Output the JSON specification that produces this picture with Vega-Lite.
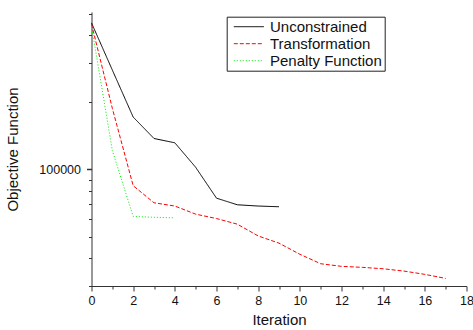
{
  "$schema": "https://vega.github.io/schema/vega-lite/v6.json",
  "width": 375,
  "height": 274,
  "autosize": "none",
  "padding": {"left": 91.5, "top": 12, "right": 6.5, "bottom": 44},
  "background": "white",
  "config": {"view": {"stroke": null}, "font": "Liberation Sans"},
  "data": {
    "values": [
      {"series": "Unconstrained", "iteration": 0, "value": 454000},
      {"series": "Unconstrained", "iteration": 1, "value": 279000},
      {"series": "Unconstrained", "iteration": 2, "value": 171700},
      {"series": "Unconstrained", "iteration": 3, "value": 137600},
      {"series": "Unconstrained", "iteration": 4, "value": 131600},
      {"series": "Unconstrained", "iteration": 5, "value": 102200},
      {"series": "Unconstrained", "iteration": 6, "value": 74300},
      {"series": "Unconstrained", "iteration": 7, "value": 69400},
      {"series": "Unconstrained", "iteration": 8, "value": 68500},
      {"series": "Unconstrained", "iteration": 9, "value": 68000},
      {"series": "Transformation", "iteration": 0, "value": 449000},
      {"series": "Transformation", "iteration": 1, "value": 187900},
      {"series": "Transformation", "iteration": 2, "value": 84500},
      {"series": "Transformation", "iteration": 3, "value": 70850},
      {"series": "Transformation", "iteration": 4, "value": 68500},
      {"series": "Transformation", "iteration": 5, "value": 63000},
      {"series": "Transformation", "iteration": 6, "value": 60200},
      {"series": "Transformation", "iteration": 7, "value": 56800},
      {"series": "Transformation", "iteration": 8, "value": 50300},
      {"series": "Transformation", "iteration": 9, "value": 46700},
      {"series": "Transformation", "iteration": 10, "value": 41640},
      {"series": "Transformation", "iteration": 11, "value": 37760},
      {"series": "Transformation", "iteration": 12, "value": 36750},
      {"series": "Transformation", "iteration": 13, "value": 36370},
      {"series": "Transformation", "iteration": 14, "value": 35840},
      {"series": "Transformation", "iteration": 15, "value": 35000},
      {"series": "Transformation", "iteration": 16, "value": 33830},
      {"series": "Transformation", "iteration": 17, "value": 32450},
      {"series": "Penalty Function", "iteration": 0, "value": 439800},
      {"series": "Penalty Function", "iteration": 1, "value": 121500},
      {"series": "Penalty Function", "iteration": 2, "value": 61600},
      {"series": "Penalty Function", "iteration": 3, "value": 60970},
      {"series": "Penalty Function", "iteration": 4, "value": 60660}
    ]
  },
  "mark": {"type": "line", "strokeWidth": 1},
  "encoding": {
    "x": {
      "field": "iteration",
      "type": "quantitative",
      "scale": {"domain": [0, 18], "nice": false, "zero": false},
      "axis": {
        "title": "Iteration",
        "values": [0, 1, 2, 3, 4, 5, 6, 7, 8, 9, 10, 11, 12, 13, 14, 15, 16, 17, 18],
        "format": "d",
        "labelExpr": "datum.value % 2 == 0 ? datum.label : ''",
        "labelOverlap": false,
        "labelFlush": false,
        "grid": false,
        "domainColor": "#333",
        "tickColor": "#333",
        "tickSize": {"condition": {"test": "datum.value % 2 == 0", "value": 5}, "value": 3},
        "labelPadding": 3,
        "labelFontSize": 12.5,
        "labelColor": "#111",
        "titleFontSize": 15,
        "titleFontWeight": "normal",
        "titleColor": "#111",
        "titlePadding": 6
      }
    },
    "y": {
      "field": "value",
      "type": "quantitative",
      "scale": {"type": "log", "domain": [30000, 508000], "nice": false},
      "axis": {
        "title": "Objective Function",
        "values": [30000, 40000, 50000, 60000, 70000, 80000, 90000, 100000, 200000, 300000, 400000, 500000],
        "labelExpr": "datum.value == 100000 ? '100000' : ''",
        "labelOverlap": false,
        "labelFlush": false,
        "grid": false,
        "domainColor": "#333",
        "tickColor": "#333",
        "tickSize": {"condition": {"test": "datum.value == 100000", "value": 5}, "value": 3},
        "tickWidth": {"condition": {"test": "datum.value == 100000", "value": 1.5}, "value": 1},
        "labelPadding": 6,
        "labelFontSize": 12.5,
        "labelColor": "#111",
        "titleFontSize": 15,
        "titleFontWeight": "normal",
        "titleColor": "#111",
        "titlePadding": 18
      }
    },
    "color": {
      "field": "series",
      "type": "nominal",
      "scale": {"domain": ["Unconstrained", "Transformation", "Penalty Function"], "range": ["#000000", "#ff0000", "#00ee00"]},
      "legend": {
        "title": null,
        "orient": "none",
        "legendX": 135.2,
        "legendY": 4.7,
        "strokeColor": "#222",
        "fillColor": "white",
        "padding": 2,
        "symbolType": "M-1,0H3",
        "symbolSize": 225,
        "symbolStrokeWidth": 1,
        "symbolOffset": 4.6,
        "labelFontSize": 15,
        "labelColor": "#111",
        "labelOffset": 20.7,
        "rowPadding": 1
      }
    },
    "strokeDash": {
      "field": "series",
      "type": "nominal",
      "scale": {"domain": ["Unconstrained", "Transformation", "Penalty Function"], "range": [[1, 0], [4, 2], [1, 2]]},
      "legend": null
    }
  }
}
